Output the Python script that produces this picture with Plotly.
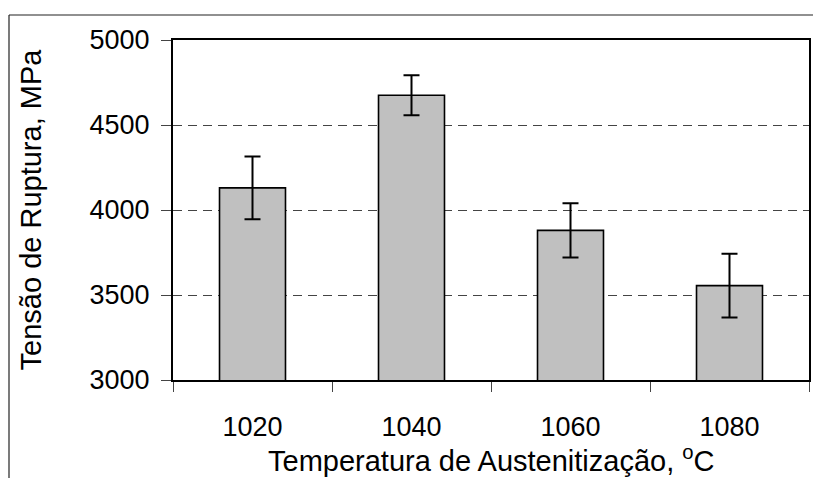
import plotly.graph_objects as go

categories = ["1020", "1040", "1060", "1080"]
tensao = [4130, 4675, 3880, 3555]
erro = [185, 118, 160, 188]
y_ticks = [3000, 3500, 4000, 4500, 5000]

FONT = "Liberation Sans, Arial, sans-serif"
FS_TICK = 27
FS_TITLE = 29

fig = go.Figure()
fig.add_trace(go.Bar(
    x=categories,
    y=tensao,
    width=0.415,
    marker=dict(color="#c0c0c0", line=dict(color="black", width=1.6)),
    error_y=dict(type="data", array=erro, visible=True,
                 color="black", thickness=2, width=8),
    showlegend=False,
))

L, R, T, B = 173, 4, 40, 98
W, H = 813, 478
pw, ph = W - L - R, H - T - B

def px2x(px):
    return (px - L) / pw

def py2y(py):
    return (H - B - py) / ph

fig.add_shape(type="line", xref="paper", yref="paper",
              x0=px2x(9), x1=px2x(830), y0=py2y(15), y1=py2y(15),
              line=dict(color="#222", width=1.2))
fig.add_shape(type="line", xref="paper", yref="paper",
              x0=px2x(9), x1=px2x(9), y0=py2y(15), y1=py2y(500),
              line=dict(color="#222", width=1.2))

fig.add_annotation(
    text="Temperatura de Austenitização, <sup>o</sup>C",
    xref="paper", yref="paper", x=0.5, y=py2y(459),
    xanchor="center", yanchor="middle", showarrow=False,
    font=dict(family=FONT, size=FS_TITLE, color="black"),
)

fig.update_layout(
    width=W, height=H,
    margin=dict(l=L, r=R, t=T, b=B, autoexpand=False),
    paper_bgcolor="white",
    plot_bgcolor="white",
    font=dict(family=FONT, size=FS_TICK, color="black"),
    xaxis=dict(
        type="category",
        range=[-0.5, 3.5],
        showline=True, linecolor="black", linewidth=2, mirror=True,
        ticks="outside", tickson="boundaries", ticklen=10, tickwidth=1,
        tickcolor="#444",
        ticklabelstandoff=22,
        showgrid=False,
    ),
    yaxis=dict(
        range=[3000, 5000],
        tickvals=y_ticks,
        showline=True, linecolor="black", linewidth=2, mirror=True,
        ticks="outside", ticklen=10, tickwidth=1, tickcolor="#444",
        ticklabelstandoff=6,
        showgrid=True, gridcolor="#444", gridwidth=1, griddash="9px,6px",
        zeroline=False,
        title=dict(text="Tensão de Ruptura, MPa",
                   font=dict(family=FONT, size=FS_TITLE), standoff=39),
    ),
)

fig.write_html("out.html")
